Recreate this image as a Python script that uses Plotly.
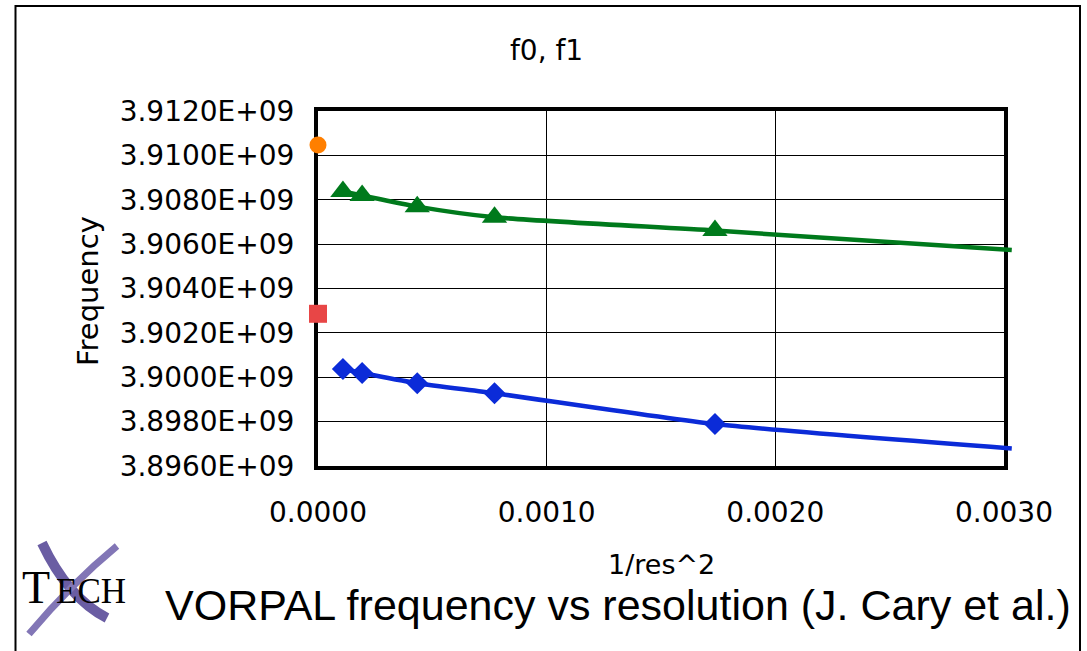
import plotly.graph_objects as go

# ---------------- data ----------------
inv_res2 = [0.000109, 0.000193, 0.000434, 0.000772, 0.001736]
f1_vals = [3.90837e9, 3.90819e9, 3.90769e9, 3.90721e9, 3.90661e9]   # green triangles
f0_vals = [3.90037e9, 3.90019e9, 3.89973e9, 3.89928e9, 3.89789e9]   # blue diamonds
trend_end_x = [0.003034]
f1_trend_end = [3.90574e9]
f0_trend_end = [3.89679e9]
extrap_x = [0.0]
f1_extrap = [3.91047e9]   # orange circle
f0_extrap = [3.90286e9]   # red square

x_tickvals = [0.0, 0.001, 0.002, 0.003]
x_ticktext = ["0.0000", "0.0010", "0.0020", "0.0030"]
y_tickvals = [3.8960e9, 3.8980e9, 3.9000e9, 3.9020e9, 3.9040e9, 3.9060e9, 3.9080e9, 3.9100e9, 3.9120e9]
y_ticktext = ["3.8960E+09", "3.8980E+09", "3.9000E+09", "3.9020E+09", "3.9040E+09",
              "3.9060E+09", "3.9080E+09", "3.9100E+09", "3.9120E+09"]

title_text = "f0, f1"
x_title = "1/res^2"
y_title = "Frequency"
caption = "VORPAL frequency vs resolution (J. Cary et al.)"

# ---------------- layout geometry ----------------
W, H = 1087, 651
L, R, T, B = 318, 1004, 111, 466   # framed plot area in pixels
R2 = 1013                          # overlay area (lets trend lines run past the frame)
X_MIN, X_MAX = 0.0, 0.003
Y_MIN, Y_MAX = 3.8960e9, 3.9120e9
dom_main = (R - L) / (R2 - L)


def px(xp):
    return (xp - L) / (R2 - L)


def py(yp):
    return (B - yp) / (B - T)


GREEN = "#007A1C"
BLUE = "#0B2BD8"
ORANGE = "#FF7F00"
RED = "#E84646"
FONT = "DejaVu Sans"

fig = go.Figure()

# invisible trace that anchors the framed (gridded) subplot
fig.add_trace(go.Scatter(x=inv_res2, y=f1_vals, mode="markers", marker=dict(opacity=0),
                         xaxis="x", yaxis="y", hoverinfo="skip"))

tr = dict(xaxis="x2", yaxis="y2", hoverinfo="skip", cliponaxis=False)
fig.add_trace(go.Scatter(x=inv_res2 + trend_end_x, y=f1_vals + f1_trend_end, mode="lines",
                         line=dict(color=GREEN, width=4.5, shape="spline", smoothing=0.6), **tr))
fig.add_trace(go.Scatter(x=inv_res2 + trend_end_x, y=f0_vals + f0_trend_end, mode="lines",
                         line=dict(color=BLUE, width=4.5, shape="spline", smoothing=0.6), **tr))
fig.add_trace(go.Scatter(x=inv_res2, y=f1_vals, mode="markers",
                         marker=dict(symbol="triangle-up", size=22, color=GREEN), **tr))
fig.add_trace(go.Scatter(x=inv_res2, y=f0_vals, mode="markers",
                         marker=dict(symbol="diamond", size=17, color=BLUE), **tr))
fig.add_trace(go.Scatter(x=extrap_x, y=f1_extrap, mode="markers",
                         marker=dict(symbol="circle", size=17, color=ORANGE), **tr))
fig.add_trace(go.Scatter(x=extrap_x, y=f0_extrap, mode="markers",
                         marker=dict(symbol="square", size=18, color=RED), **tr))

axis_common = dict(showgrid=True, gridcolor="black", gridwidth=1.3, zeroline=False,
                   showline=True, linecolor="black", linewidth=4, mirror=True,
                   ticks="", layer="below traces", automargin=False,
                   tickfont=dict(family=FONT, size=28, color="black"))

fig.update_layout(
    xaxis=dict(domain=[0, dom_main], range=[X_MIN, X_MAX], tickmode="array",
               tickvals=x_tickvals, ticktext=x_ticktext, ticklabelstandoff=18,
               anchor="y", **axis_common),
    yaxis=dict(domain=[0, 1], range=[Y_MIN, Y_MAX], tickmode="array",
               tickvals=y_tickvals, ticktext=y_ticktext, ticklabelstandoff=14,
               anchor="x", **axis_common),
    xaxis2=dict(domain=[0, 1], range=[X_MIN, X_MAX / dom_main], visible=False,
                showgrid=False, zeroline=False, anchor="y2", fixedrange=True),
    yaxis2=dict(domain=[0, 1], range=[Y_MIN, Y_MAX], visible=False,
                showgrid=False, zeroline=False, anchor="x2", fixedrange=True),
)

annotations = [
    dict(text=title_text, x=px(546), y=py(50), font=dict(family=FONT, size=28, color="black")),
    dict(text=x_title, x=px(661), y=py(564), font=dict(family=FONT, size=27, color="black")),
    dict(text=y_title, x=px(88), y=py(291), textangle=-90, font=dict(family=FONT, size=29, color="black")),
    dict(text=caption, x=px(618), y=py(605), font=dict(family="Liberation Sans", size=43, color="black")),
    dict(text="T", x=px(36), y=py(587), font=dict(family="Liberation Serif", size=46, color="black")),
    dict(text="ECH", x=px(91), y=py(591), font=dict(family="Liberation Serif", size=35, color="black")),
]
for a in annotations:
    a.update(xref="paper", yref="paper", showarrow=False, xanchor="center", yanchor="middle")

shapes = [
    # outer frame
    dict(type="rect", xref="paper", yref="paper", x0=px(15.5), x1=px(1080), y0=py(6), y1=py(680),
         line=dict(color="black", width=2), layer="below"),
    # X logo strokes
    dict(type="path", xref="paper", yref="paper", layer="below",
         path=f"M {px(42)},{py(543)} Q {px(68)},{py(598)} {px(107)},{py(618)}",
         line=dict(color="#6A5DA3", width=10)),
    dict(type="path", xref="paper", yref="paper", layer="below",
         path=f"M {px(117)},{py(546)} Q {px(72)},{py(583)} {px(29)},{py(634)}",
         line=dict(color="#8276B6", width=7)),
]

fig.update_layout(width=W, height=H, autosize=False,
                  margin=dict(l=L, r=W - R2, t=T, b=H - B, pad=0),
                  paper_bgcolor="white", plot_bgcolor="rgba(0,0,0,0)",
                  showlegend=False, annotations=annotations, shapes=shapes)

fig.write_html("out.html")
